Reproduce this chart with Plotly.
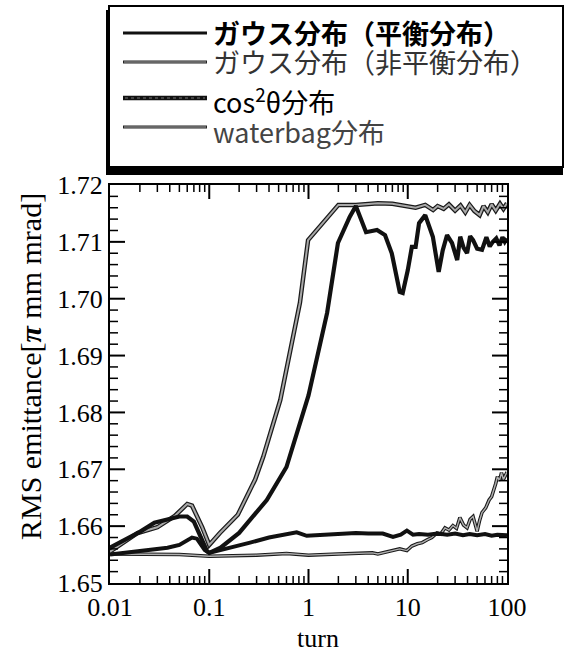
import plotly.graph_objects as go

# turn axis (log) and RMS emittance values for each distribution
gauss_neq_turn = [0.01, 0.019, 0.03, 0.045, 0.06, 0.067, 0.085, 0.1, 0.128, 0.194, 0.29, 0.35,
                  0.52, 0.82, 0.99, 2.0, 3.0, 5, 7, 10, 12, 15, 18, 20, 23, 26, 30, 34, 38,
                  42, 47, 53, 58, 64, 70, 77, 85, 92, 100]
gauss_neq_emit = [1.6555, 1.6588, 1.6598, 1.6618, 1.6639, 1.6636, 1.6598, 1.6567, 1.6588, 1.6620,
                  1.6682, 1.6722, 1.6822, 1.6993, 1.7103, 1.7165, 1.7165, 1.7168, 1.7167, 1.7163,
                  1.7160, 1.7165, 1.7156, 1.7163, 1.7158, 1.7166, 1.7155, 1.7164, 1.7152, 1.7165,
                  1.7154, 1.7147, 1.7163, 1.7152, 1.7166, 1.7155, 1.7167, 1.7158, 1.7168]

cos2_turn = [0.01, 0.02, 0.028, 0.04, 0.05, 0.06, 0.07, 0.085, 0.095, 0.1, 0.13, 0.2, 0.38, 0.6,
             1.0, 1.54, 1.98, 2.6, 3.0, 3.8, 4.9, 5.9, 6.9, 8.3, 8.9, 10.0, 11.0, 12.0, 13.0,
             15.0, 17.9, 20.5, 22.5, 24.9, 27.9, 31.5, 33.8, 36.5, 39.6, 42.5, 45.5, 50, 56,
             62, 67, 72, 78, 84, 90, 95, 100]
cos2_emit = [1.6562, 1.6590, 1.6606, 1.6612, 1.6617, 1.6617, 1.6608, 1.6575, 1.6556, 1.6553,
             1.6562, 1.6588, 1.6646, 1.6704, 1.6830, 1.6975, 1.7098, 1.7144, 1.7163, 1.7117,
             1.7121, 1.7112, 1.7080, 1.7012, 1.7010, 1.7050, 1.7091, 1.7091, 1.7133, 1.7147,
             1.7109, 1.7047, 1.7085, 1.7112, 1.7098, 1.7068, 1.7109, 1.7090, 1.7080, 1.7110,
             1.7103, 1.7088, 1.7086, 1.7108, 1.7092, 1.7100, 1.7106, 1.7094, 1.7108, 1.7100,
             1.7106]

gauss_eq_turn = [0.01, 0.02, 0.038, 0.05, 0.067, 0.075, 0.09, 0.1, 0.15, 0.258, 0.4, 0.65, 0.76,
                 0.96, 1.2, 1.54, 2.07, 3, 4, 5.6, 7.1, 8.5, 9.8, 11.3, 13, 16, 20, 25, 30, 36,
                 42, 50, 60, 70, 80, 90, 100]
gauss_eq_emit = [1.6550, 1.6556, 1.6562, 1.6567, 1.6580, 1.6578, 1.6558, 1.6553, 1.6560, 1.6571,
                 1.6580, 1.6588, 1.6589, 1.6583, 1.6584, 1.6585, 1.6588, 1.6588, 1.6587, 1.6587,
                 1.6581, 1.6585, 1.6592, 1.6585, 1.6586, 1.6585, 1.6587, 1.6585, 1.6587, 1.6584,
                 1.6586, 1.6584, 1.6586, 1.6583, 1.6585, 1.6584, 1.6584]

waterbag_turn = [0.01, 0.05, 0.1, 0.3, 0.6, 1.0, 2.0, 4.4, 5.0, 6.5, 8.3, 9.8, 11, 12.5, 14, 15.7,
                 17.5, 19.7, 21.5, 23.7, 26, 28.5, 31, 33.5, 36.5, 39.6, 42.5, 45.5, 48, 50, 53,
                 56, 61, 66, 70, 74, 77, 80, 84, 88, 92, 95, 100]
waterbag_emit = [1.6551, 1.6550, 1.6547, 1.6549, 1.6552, 1.6549, 1.6551, 1.6553, 1.6551, 1.6556,
                 1.6560, 1.6557, 1.6565, 1.6569, 1.6571, 1.6576, 1.6580, 1.6588, 1.6586, 1.6597,
                 1.6593, 1.6601, 1.6596, 1.6615, 1.6602, 1.6597, 1.6612, 1.6617, 1.6603, 1.6591,
                 1.6610, 1.6624, 1.6632, 1.6646, 1.6652, 1.6664, 1.6675, 1.6687, 1.6680, 1.6694,
                 1.6682, 1.6687, 1.6695]

# axis extents and tick positions
turn_range_log = [-2, 2]
emit_range = [1.65, 1.72]
emit_major_step = 0.01
turn_major = [0.1, 1, 10]
turn_minor = [m * 10.0 ** e for e in (-2, -1, 0, 1) for m in range(2, 10)]
emit_major = [1.66, 1.67, 1.68, 1.69, 1.70, 1.71]
emit_minor = [round(1.65 + 0.002 * k, 3) for k in range(1, 35) if k % 5 != 0]

legend_labels = ["ガウス分布（平衡分布）", "ガウス分布（非平衡分布）",
                 "cos<sup>2</sup>θ分布", "waterbag分布"]

# plot area in pixels: x 110..507, y 185..583
L, R, T, B = 110, 507, 185, 583
W_PLOT, H_PLOT = R - L, B - T
DEC_PER_PX = (turn_range_log[1] - turn_range_log[0]) / W_PLOT
EMIT_PER_PX = (emit_range[1] - emit_range[0]) / H_PLOT

fig = go.Figure()


def outlined(x, y, edge_w, core_w, core_color):
    """Gray curve printed with a dark rim: wide dark stroke under a narrower gray one."""
    fig.add_trace(go.Scatter(x=x, y=y, mode="lines", showlegend=False, hoverinfo="skip",
                             line=dict(color="#1a1a1a", width=edge_w)))
    fig.add_trace(go.Scatter(x=x, y=y, mode="lines", showlegend=False,
                             line=dict(color=core_color, width=core_w)))


outlined(waterbag_turn, waterbag_emit, 3.5, 1.4, "#b0b0b0")
fig.add_trace(go.Scatter(x=gauss_eq_turn, y=gauss_eq_emit, mode="lines", showlegend=False,
                         line=dict(color="#111", width=4)))
outlined(gauss_neq_turn, gauss_neq_emit, 4.5, 2.0, "#a8a8a8")
fig.add_trace(go.Scatter(x=cos2_turn, y=cos2_emit, mode="lines", showlegend=False,
                         line=dict(color="#111", width=4.2)))


# inward tick marks on all four sides, drawn in data space on the axes' scales
def turn_ticks(vals, length_px, width):
    d = length_px * EMIT_PER_PX
    xs, ys = [], []
    for v in vals:
        xs += [v, v, None, v, v, None]
        ys += [emit_range[0], emit_range[0] + d, None, emit_range[1], emit_range[1] - d, None]
    fig.add_trace(go.Scatter(x=xs, y=ys, mode="lines", showlegend=False, hoverinfo="skip",
                             line=dict(color="black", width=width)))


def emit_ticks(vals, length_px, width):
    lo, hi = 10.0 ** turn_range_log[0], 10.0 ** turn_range_log[1]
    f = 10.0 ** (length_px * DEC_PER_PX)
    xs, ys = [], []
    for v in vals:
        xs += [lo, lo * f, None, hi, hi / f, None]
        ys += [v, v, None, v, v, None]
    fig.add_trace(go.Scatter(x=xs, y=ys, mode="lines", showlegend=False, hoverinfo="skip",
                             line=dict(color="black", width=width)))


turn_ticks(turn_major, 14, 2)
turn_ticks(turn_minor, 7, 1.5)
emit_ticks(emit_major, 15, 2)
emit_ticks(emit_minor, 8, 1.5)


def px(xp):
    return (xp - L) / W_PLOT


def py(yp):
    return (B - yp) / H_PLOT


# legend frame with drop shadow
fig.add_shape(type="rect", xref="paper", yref="paper", x0=px(106), x1=px(563),
              y0=py(175), y1=py(10), fillcolor="black", line=dict(width=0), layer="above")
fig.add_shape(type="rect", xref="paper", yref="paper", x0=px(109), x1=px(563),
              y0=py(167), y1=py(6), fillcolor="white", line=dict(color="black", width=2),
              layer="above")

sample_rows = [33, 62, 98, 127]
text_rows = [33, 61, 101, 131]
text_colors = ["#000", "#333", "#000", "#444"]
text_weights = [600, 400, 400, 400]
for i, (sy, ty) in enumerate(zip(sample_rows, text_rows)):
    if i == 0:
        fig.add_shape(type="line", xref="paper", yref="paper", x0=px(123), x1=px(207),
                      y0=py(sy), y1=py(sy), line=dict(color="#111", width=3), layer="above")
    elif i == 2:
        fig.add_shape(type="line", xref="paper", yref="paper", x0=px(123), x1=px(207),
                      y0=py(sy), y1=py(sy), line=dict(color="#111", width=4.5), layer="above")
        fig.add_shape(type="line", xref="paper", yref="paper", x0=px(125), x1=px(205),
                      y0=py(sy), y1=py(sy), line=dict(color="#777", width=1, dash="dot"),
                      layer="above")
    else:
        fig.add_shape(type="line", xref="paper", yref="paper", x0=px(123), x1=px(207),
                      y0=py(sy), y1=py(sy), line=dict(color="#222", width=3), layer="above")
        fig.add_shape(type="line", xref="paper", yref="paper", x0=px(124), x1=px(206),
                      y0=py(sy), y1=py(sy), line=dict(color="#aaa", width=1), layer="above")
    fig.add_annotation(xref="paper", yref="paper", x=px(211), y=py(ty), xanchor="left",
                       yanchor="middle", showarrow=False, text=legend_labels[i],
                       font=dict(family="Noto Sans CJK JP", size=27, color=text_colors[i],
                                 weight=text_weights[i]))

# axis titles
fig.add_annotation(xref="paper", yref="paper", x=px(30), y=py(367), xanchor="center",
                   yanchor="middle", showarrow=False, textangle=-90,
                   text="RMS emittance[<b><i>π</i></b> mm mrad]",
                   font=dict(family="Liberation Serif", size=30, color="black"))
fig.add_annotation(xref="paper", yref="paper", x=px(318), y=py(638), xanchor="center",
                   yanchor="middle", showarrow=False, text="turn",
                   font=dict(family="Liberation Serif", size=26, color="black"))

tick_font = dict(family="Liberation Serif", size=26, color="black")
fig.update_layout(
    width=566, height=654,
    margin=dict(l=L, r=566 - R, t=T, b=654 - B),
    paper_bgcolor="white", plot_bgcolor="white",
    xaxis=dict(type="log", range=turn_range_log, tickmode="linear", tick0=0, dtick=1,
               ticks="", showline=True, linecolor="black", linewidth=2, mirror=True,
               showgrid=False, zeroline=False, tickfont=tick_font),
    yaxis=dict(range=emit_range, tickmode="linear", tick0=emit_range[0],
               dtick=emit_major_step, tickformat=".2f",
               ticks="", showline=True, linecolor="black", linewidth=2, mirror=True,
               showgrid=False, zeroline=False, tickfont=tick_font),
)

fig.write_html("out.html")
